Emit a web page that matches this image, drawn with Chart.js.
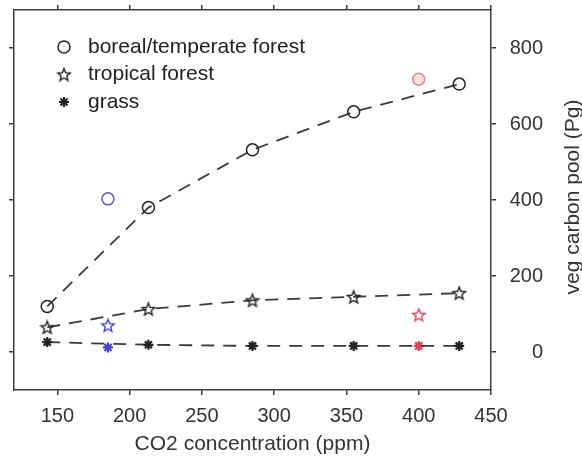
<!DOCTYPE html>
<html>
<head>
<meta charset="utf-8">
<script src="https://cdn.jsdelivr.net/npm/chart.js@4.4.1/dist/chart.umd.min.js"></script>
<style>
  body { margin: 0; background: #fff; }
</style>
</head>
<body>
<canvas id="chart" width="582" height="461"></canvas>
<script>
// model runs along the CO2 axis (black, dashed)
var co2 = [143, 213, 285, 355, 428];
var borealPool = [120, 380, 532, 632, 705];
var tropicalPool = [65, 113, 136, 145, 155];
var grassPool = [26, 19, 16, 16, 16];

// coloured reference points (blue = LGM, red = present)
var co2Marked = [185, 400];
var borealMarked = [403, 718];
var tropicalMarked = [70, 98];
var grassMarked = [12, 16];

var xTicks = [150, 200, 250, 300, 350, 400, 450];
var yTicks = [0, 200, 400, 600, 800];
var seriesNames = ['boreal/temperate forest', 'tropical forest', 'grass'];

var FONT = '"Liberation Sans", Arial, sans-serif';
var INK = '#333';
var blue = '#4646c8', red = '#e0404e';

function starImage(color) {
  var c = document.createElement('canvas');
  c.width = 16; c.height = 16;
  var g = c.getContext('2d');
  g.strokeStyle = color;
  g.lineWidth = 1.4;
  g.beginPath();
  for (var i = 0; i < 10; i++) {
    var r = i % 2 ? 2.9 : 6.6;
    var a = -Math.PI / 2 + i * Math.PI / 5;
    var px = 8 + r * Math.cos(a), py = 8.6 + r * Math.sin(a);
    if (i) g.lineTo(px, py); else g.moveTo(px, py);
  }
  g.closePath();
  g.stroke();
  return c;
}

function pts(xs, ys) {
  return xs.map(function(x, i) { return {x: x, y: ys[i]}; });
}

var starBlack = starImage('#222');

var lineDefaults = {
  showLine: true,
  borderColor: '#3a3a3a',
  borderWidth: 1.8,
  borderDash: [13, 9],
  pointBorderColor: '#222',
  pointBackgroundColor: 'rgba(0,0,0,0)'
};

var datasets = [
  Object.assign({}, lineDefaults, {
    label: seriesNames[0], data: pts(co2, borealPool),
    pointStyle: 'circle', pointRadius: 6, pointBorderWidth: 1.5
  }),
  Object.assign({}, lineDefaults, {
    label: seriesNames[1], data: pts(co2, tropicalPool),
    pointStyle: starBlack, pointRadius: 7
  }),
  Object.assign({}, lineDefaults, {
    label: seriesNames[2], data: pts(co2, grassPool),
    pointStyle: 'star', pointRadius: 5, pointBorderWidth: 2.2
  }),
  {
    label: 'marked boreal', data: pts(co2Marked, borealMarked), showLine: false,
    pointStyle: 'circle', pointRadius: 6, pointBorderWidth: 1.5,
    pointBorderColor: ['#5a5ad0', '#e08a8a'], pointBackgroundColor: ['rgba(0,0,0,0)', 'rgba(240,190,190,0.5)']
  },
  {
    label: 'marked tropical', data: pts(co2Marked, tropicalMarked), showLine: false,
    pointStyle: [starImage(blue), starImage(red)], pointRadius: 7
  },
  {
    label: 'marked grass', data: pts(co2Marked, grassMarked), showLine: false,
    pointStyle: 'star', pointRadius: 5, pointBorderWidth: 2.2,
    pointBorderColor: [blue, red]
  }
];

function axisBase(min, max, ticks, size) {
  return {
    type: 'linear', min: min, max: max,
    afterBuildTicks: function(scale) {
      scale.ticks = ticks.map(function(v) { return {value: v}; });
    },
    afterFit: function(scale) {
      if (scale.isHorizontal()) scale.height = size; else scale.width = size;
      scale.paddingTop = scale.paddingBottom = 0;
      scale.paddingLeft = scale.paddingRight = 0;
    },
    grid: { drawOnChartArea: false, drawTicks: true, tickLength: 5, color: '#3c3c3c', lineWidth: 1.5 },
    border: { display: true, color: '#3c3c3c', width: 1.5 },
    ticks: { display: false }
  };
}

var xAxis = axisBase(120, 450, xTicks, 71);
xAxis.position = 'bottom';
xAxis.ticks = { display: true, font: { family: FONT, size: 20 }, color: INK, padding: 9 };
xAxis.title = { display: true, text: 'CO2 concentration (ppm)', color: INK,
  font: { family: FONT, size: 21, lineHeight: 1.6 }, padding: 0 };

var xTop = axisBase(120, 450, xTicks, 10);
xTop.position = 'top';

var yAxis = axisBase(-100, 900, yTicks, 52);
yAxis.position = 'right';
yAxis.ticks = { display: true, font: { family: FONT, size: 20 }, color: INK, padding: 11, crossAlign: 'far' };

var yLeft = axisBase(-100, 900, yTicks, 14);
yLeft.position = 'left';

// legend drawn inside the plot, top-left
var legendInside = {
  id: 'legendInside',
  afterDatasetsDraw: function(chart) {
    var ctx = chart.ctx, area = chart.chartArea;
    ctx.save();
    for (var i = 0; i < 3; i++) {
      var ds = chart.data.datasets[i];
      var y = area.top + 37 + i * 27.5;
      ctx.strokeStyle = '#222';
      ctx.fillStyle = 'rgba(0,0,0,0)';
      ctx.lineWidth = ds.pointBorderWidth || 1.5;
      Chart.helpers.drawPoint(ctx, {
        pointStyle: ds.pointStyle, radius: ds.pointRadius,
        borderWidth: ds.pointBorderWidth || 1.5, rotation: 0
      }, area.left + 50, y);
      ctx.fillStyle = '#222';
      ctx.font = '21px ' + FONT;
      ctx.textBaseline = 'middle';
      ctx.textAlign = 'left';
      ctx.fillText(ds.label, area.left + 74, y);
    }
    ctx.restore();
  }
};

// right-hand axis title, reading bottom to top
var rightTitle = {
  id: 'rightTitle',
  afterDraw: function(chart) {
    var ctx = chart.ctx, area = chart.chartArea;
    ctx.save();
    ctx.translate(573, (area.top + area.bottom) / 2 - 3);
    ctx.rotate(-Math.PI / 2);
    ctx.font = '21px ' + FONT;
    ctx.fillStyle = INK;
    ctx.textAlign = 'center';
    ctx.textBaseline = 'middle';
    ctx.fillText('veg carbon pool (Pg)', 0, 0);
    ctx.restore();
  }
};

new Chart(document.getElementById('chart'), {
  type: 'scatter',
  data: { datasets: datasets },
  options: {
    responsive: false,
    animation: false,
    layout: { padding: { left: 0, top: 0, bottom: 0, right: 39 } },
    plugins: { legend: { display: false }, tooltip: { enabled: false } },
    scales: { x: xAxis, xTop: xTop, y: yAxis, yLeft: yLeft }
  },
  plugins: [legendInside, rightTitle]
});
</script>
</body>
</html>
